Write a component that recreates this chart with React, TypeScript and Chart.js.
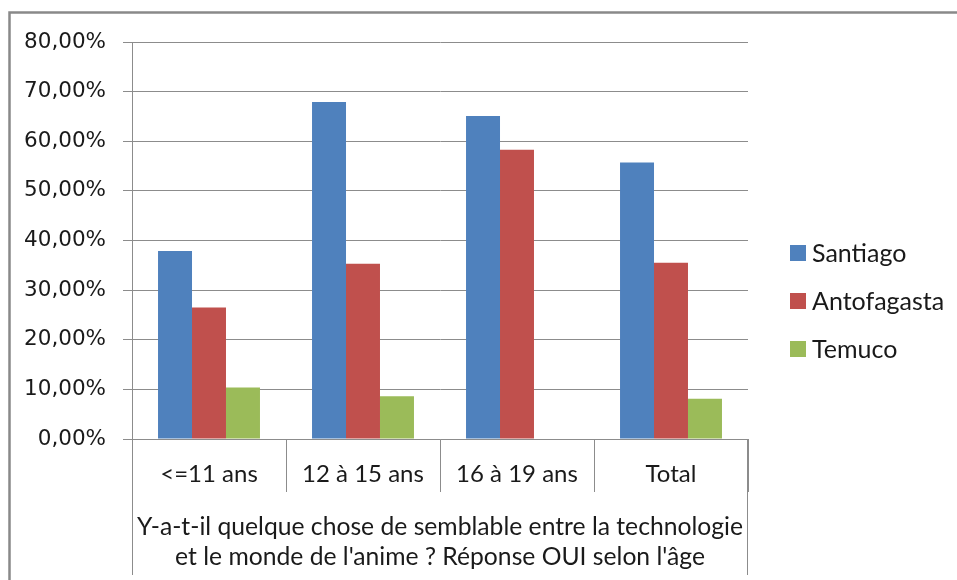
import React, { useEffect, useRef } from "react";
import { Chart, registerables } from "chart.js";

Chart.register(...registerables);

const categories = ["<=11 ans", "12 à 15 ans", "16 à 19 ans", "Total"];
const seriesNames = ["Santiago", "Antofagasta", "Temuco"];
const santiago = [37.9, 67.9, 65.1, 55.7];
const antofagasta = [26.5, 35.3, 58.3, 35.5];
const temuco = [10.4, 8.6, 0, 8.1];
const seriesColors = ["#4F81BD", "#C0504D", "#9BBB59"];
const yMin = 0;
const yMax = 80;
const yStep = 10;
const xTitle = [
  "Y-a-t-il quelque chose de semblable entre la technologie",
  "et le monde de l'anime ? Réponse OUI selon l'âge",
];

const GRID = "#8c8c8c";
const TEXT = "#1a1a1a";
const LABEL_FONT = "Lato";

const decorPlugin = {
  id: "decor",
  afterDraw(chart: any) {
    const ctx = chart.ctx;
    const { left, right, bottom } = chart.chartArea;
    ctx.save();
    // outer frame
    ctx.strokeStyle = "#898989";
    ctx.lineWidth = 2.5;
    ctx.beginPath();
    ctx.moveTo(9.5, 590);
    ctx.lineTo(9.5, 12.5);
    ctx.lineTo(970, 12.5);
    ctx.stroke();
    // extended box lines under the axis
    ctx.strokeStyle = GRID;
    ctx.lineWidth = 1;
    ctx.beginPath();
    ctx.moveTo(Math.round(left) + 0.5, bottom);
    ctx.lineTo(Math.round(left) + 0.5, 575);
    ctx.moveTo(Math.round(right) - 0.5, bottom);
    ctx.lineTo(Math.round(right) - 0.5, 575);
    ctx.stroke();
    // legend
    const boxX = 790;
    const textX = 812;
    const startY = 253;
    const gap = 48;
    ctx.font = `25px ${LABEL_FONT}`;
    ctx.textBaseline = "middle";
    ctx.textAlign = "left";
    chart.data.datasets.forEach((ds: any, i: number) => {
      const cy = startY + i * gap;
      ctx.fillStyle = ds.backgroundColor;
      ctx.fillRect(boxX, cy - 8, 16, 16);
      ctx.fillStyle = TEXT;
      ctx.fillText(ds.label, textX, cy + 1);
    });
    ctx.restore();
  },
};

export default function App() {
  const ref = useRef<HTMLCanvasElement | null>(null);

  useEffect(() => {
    if (!ref.current) return;
    const seriesValues = [santiago, antofagasta, temuco];
    const chart = new Chart(ref.current, {
      type: "bar",
      data: {
        labels: categories,
        datasets: seriesNames.map((name, i) => ({
          label: name,
          data: seriesValues[i],
          backgroundColor: seriesColors[i],
          borderWidth: 0,
          categoryPercentage: 0.662,
          barPercentage: 1,
        })),
      },
      options: {
        responsive: false,
        animation: false,
        devicePixelRatio: 1,
        layout: { padding: { left: 0, top: 42, right: 209, bottom: 0 } },
        plugins: {
          legend: { display: false },
          tooltip: { enabled: false },
        },
        scales: {
          x: {
            grid: {
              offset: true,
              drawOnChartArea: false,
              drawTicks: true,
              tickLength: 53,
              color: GRID,
              lineWidth: 1,
            },
            border: { display: true, color: GRID, width: 1 },
            ticks: {
              font: { family: LABEL_FONT, size: 24 },
              color: TEXT,
              padding: -32,
              maxRotation: 0,
              autoSkip: false,
            },
            title: {
              display: true,
              text: xTitle,
              font: { family: LABEL_FONT, size: 24.7, lineHeight: "30px" },
              color: TEXT,
              padding: { top: 0, bottom: 8 },
            },
            afterFit(scale: any) {
              scale.height = 141;
            },
          },
          y: {
            min: yMin,
            max: yMax,
            ticks: {
              stepSize: yStep,
              font: { family: "DejaVu Sans", size: 21.5 },
              color: TEXT,
              padding: 17,
              callback: (v: any) => Number(v).toFixed(2).replace(".", ",") + "%",
            },
            grid: {
              color: GRID,
              lineWidth: 1,
              drawTicks: true,
              tickLength: 9,
            },
            border: { display: true, color: GRID, width: 1 },
            afterFit(scale: any) {
              scale.width = 132;
            },
          },
        },
      },
      plugins: [decorPlugin],
    });
    return () => chart.destroy();
  }, []);

  return (
    <div style={{ position: "absolute", left: 0, top: 0, width: 957, height: 580, background: "#fff" }}>
      <canvas ref={ref} width={957} height={580} />
    </div>
  );
}
